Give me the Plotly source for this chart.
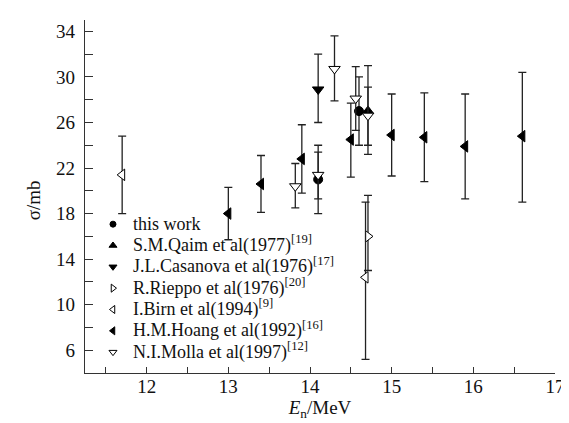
import plotly.graph_objects as go

# ---- data ----
this_x = [14.1, 14.6]
this_y = [21.0, 27.0]
this_up = [3.0, 3.0]
this_dn = [3.0, 3.0]

qaim_x = [14.71]
qaim_y = [27.0]
qaim_up = [4.0]
qaim_dn = [3.8]

casa_x = [14.1]
casa_y = [28.9]
casa_up = [3.1]
casa_dn = [2.9]

riep_x = [14.71]
riep_y = [16.0]
riep_up = [3.6]
riep_dn = [3.0]

birn_x = [11.7, 14.68]
birn_y = [21.4, 12.4]
birn_up = [3.4, 6.6]
birn_dn = [3.4, 7.2]

hoang_x = [13.0, 13.4, 13.9, 14.5, 15.0, 15.4, 15.9, 16.6]
hoang_y = [18.0, 20.6, 22.8, 24.5, 24.9, 24.7, 23.9, 24.8]
hoang_up = [2.3, 2.5, 3.0, 3.2, 3.6, 3.9, 4.6, 5.6]
hoang_dn = [2.3, 2.5, 3.0, 3.3, 3.6, 3.9, 4.6, 5.8]

molla_x = [13.82, 14.1, 14.3, 14.56, 14.71]
molla_y = [20.4, 21.4, 30.7, 28.1, 26.6]
molla_up = [2.0, 2.0, 2.9, 2.8, 2.5]
molla_dn = [1.9, 2.1, 2.8, 2.8, 2.6]

names = [
    "this work",
    "S.M.Qaim et al(1977)<sup>[19]</sup>",
    "J.L.Casanova et al(1976)<sup>[17]</sup>",
    "R.Rieppo et al(1976)<sup>[20]</sup>",
    "I.Birn et al(1994)<sup>[9]</sup>",
    "H.M.Hoang et al(1992)<sup>[16]</sup>",
    "N.I.Molla et al(1997)<sup>[12]</sup>",
]

x_title = "<i>E</i><sub>n</sub>/MeV"
y_title = "σ/mb"

FONT = "Liberation Serif"
BLACK = "#000000"
TXT = "#111111"

series = [
    (this_x, this_y, this_up, this_dn, "circle", True, 9),
    (qaim_x, qaim_y, qaim_up, qaim_dn, "triangle-up", True, 10),
    (casa_x, casa_y, casa_up, casa_dn, "triangle-down", True, 10),
    (riep_x, riep_y, riep_up, riep_dn, "triangle-right", False, 10),
    (birn_x, birn_y, birn_up, birn_dn, "triangle-left", False, 10),
    (hoang_x, hoang_y, hoang_up, hoang_dn, "triangle-left", True, 10),
    (molla_x, molla_y, molla_up, molla_dn, "triangle-down", False, 10),
]

fig = go.Figure()

for (xs, ys, up, dn, sym, filled, size), name in zip(series, names):
    fig.add_trace(go.Scatter(
        x=xs, y=ys, mode="markers", name=name, showlegend=False,
        marker=dict(symbol=sym, size=size,
                    color=BLACK if filled else "white",
                    line=dict(color=BLACK, width=1)),
        error_y=dict(type="data", symmetric=False, array=up, arrayminus=dn,
                     color="#222222", thickness=1.3, width=4),
    ))

# legend entries (smaller symbols, as in the reference)
for (xs, ys, up, dn, sym, filled, size), name in zip(series, names):
    fig.add_trace(go.Scatter(
        x=[None], y=[None], mode="markers",
        name='<span style="font-size:18px">' + name + "</span>",
        showlegend=True,
        marker=dict(symbol=sym, size=7 if sym != "circle" else 6,
                    color=BLACK if filled else "white",
                    line=dict(color=BLACK, width=1)),
    ))

fig.update_layout(
    width=569, height=423,
    margin=dict(l=77, r=12, t=12, b=58),
    paper_bgcolor="white", plot_bgcolor="white",
    font=dict(family=FONT, size=16, color=TXT),
    showlegend=True,
    legend=dict(x=0.017, y=0.466, xanchor="left", yanchor="top",
                bgcolor="rgba(0,0,0,0)", font=dict(family=FONT, size=14.1, color=TXT),
                tracegroupgap=0, itemsizing="trace"),
    annotations=[dict(
        text=y_title, textangle=-90, showarrow=False,
        xref="paper", yref="paper", x=-0.11, y=0.49,
        xanchor="center", yanchor="middle",
        font=dict(family=FONT, size=19, color=TXT),
    )],
)

fig.update_xaxes(
    range=[11.245, 17], tickvals=[12, 13, 14, 15, 16, 17],
    ticks="inside", ticklen=6, tickwidth=1.2, tickcolor="#333333",
    minor=dict(dtick=0.5, tick0=11.5, ticks="inside", ticklen=6, tickwidth=1.2, tickcolor="#333333"),
    showline=True, linecolor="#333333", linewidth=1.3,
    showgrid=False, zeroline=False,
    tickfont=dict(family=FONT, size=19, color=TXT),
    ticklabelstandoff=-4,
    title=dict(text=x_title, font=dict(family=FONT, size=19, color=TXT), standoff=0),
)
fig.update_yaxes(
    range=[4, 35], tickvals=[6, 10, 14, 18, 22, 26, 30, 34],
    ticks="inside", ticklen=8, tickwidth=1.2, tickcolor="#333333",
    minor=dict(dtick=2, tick0=4, ticks="inside", ticklen=8, tickwidth=1.2, tickcolor="#333333"),
    showline=True, linecolor="#333333", linewidth=1.3,
    showgrid=False, zeroline=False,
    tickfont=dict(family=FONT, size=19, color=TXT),
    ticklabelstandoff=5,
)

fig.write_html("out.html")
